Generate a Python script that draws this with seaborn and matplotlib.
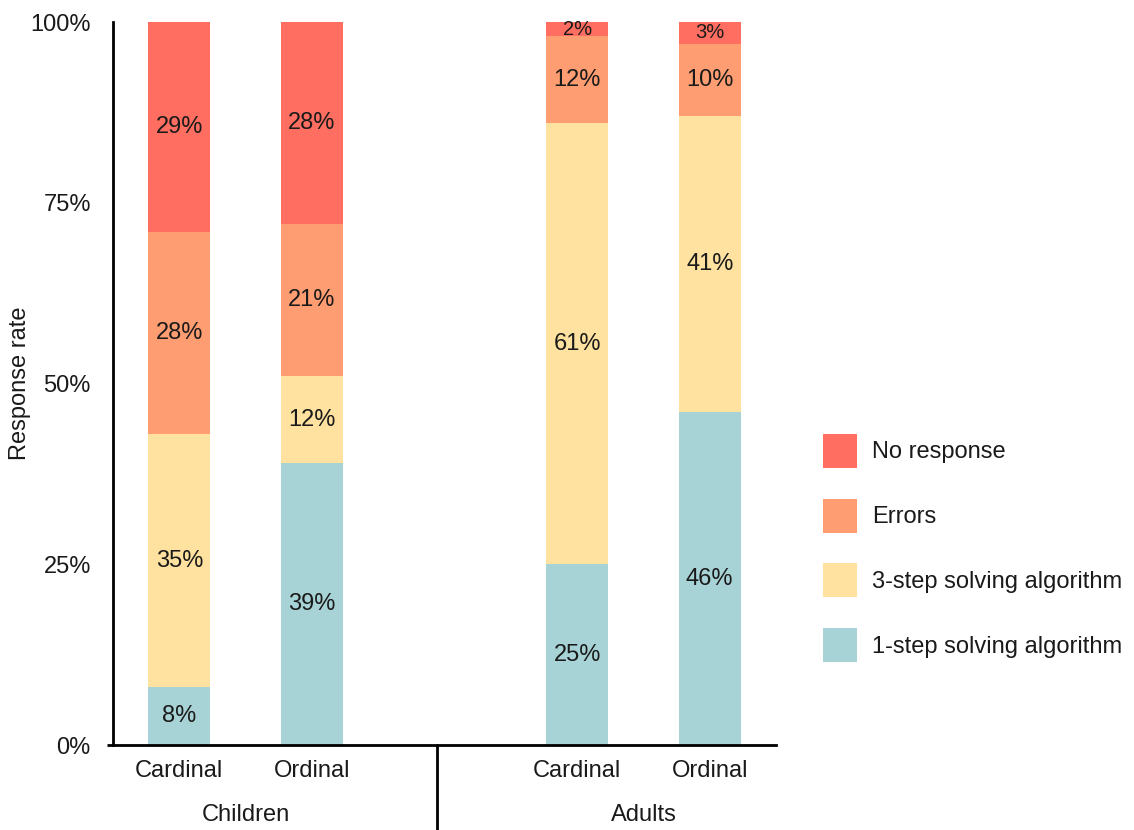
import numpy as np
import pandas as pd
import matplotlib
matplotlib.use("Agg")
import matplotlib.pyplot as plt
import seaborn as sns
from matplotlib.transforms import blended_transform_factory

# ---- data ----
groups = ["Children", "Adults"]
conditions = ["Cardinal", "Ordinal", "Cardinal", "Ordinal"]
positions = [0, 1, 3, 4]
categories = ["1-step solving algorithm", "3-step solving algorithm", "Errors", "No response"]
one_step = [8, 39, 25, 46]
three_step = [35, 12, 61, 41]
errors = [28, 21, 12, 10]
no_response = [29, 28, 2, 3]
yticks = [0, 25, 50, 75, 100]
ytick_labels = ["0%", "25%", "50%", "75%", "100%"]

layers = [one_step, three_step, errors, no_response]
colors = ["#A8D3D6", "#FFE1A0", "#FF9D72", "#FF6E60"]

sns.set_style("white")
plt.rcParams["font.family"] = ["Liberation Sans", "DejaVu Sans"]
TXT = "#1a1a1a"
FS = 17

fig = plt.figure(figsize=(11.34, 8.3), dpi=100)
W, H = 1134, 830
ax = fig.add_axes([113 / W, 1 - 745 / H, (776 - 113) / W, (745 - 22) / H])

cum = np.cumsum(np.array(layers), axis=0)
# draw from top layer down so lower layers overlay upper cumulative bars
for i in reversed(range(len(layers))):
    df = pd.DataFrame({"pos": positions, "top": cum[i]})
    sns.barplot(data=df, x="pos", y="top", native_scale=True, width=0.47,
                color=colors[i], saturation=1, linewidth=0, ax=ax,
                label=categories[i], errorbar=None)

if ax.get_legend() is not None:
    ax.get_legend().remove()

# value labels
for i, vals in enumerate(layers):
    bottoms = cum[i] - np.array(vals)
    for p, v, b in zip(positions, vals, bottoms):
        ax.text(p, b + v / 2, f"{v}%", ha="center", va="center",
                fontsize=FS if v >= 5 else 14.5, color=TXT)

ax.set_xlim(-0.5, 4.5)
ax.set_ylim(0, 100)
ax.set_xticks(positions)
ax.set_xticklabels(conditions)
ax.set_yticks(yticks)
ax.set_yticklabels(ytick_labels)
ax.tick_params(axis="x", length=0, pad=11, labelsize=FS, colors=TXT)
ax.tick_params(axis="y", length=0, pad=16, labelsize=FS, colors=TXT)
ax.set_xlabel("")
ax.set_ylabel("Response rate", fontsize=FS, color=TXT)
ax.yaxis.set_label_coords((31 - 113) / 663, 0.5)

for s in ["top", "right"]:
    ax.spines[s].set_visible(False)
for s in ["left", "bottom"]:
    ax.spines[s].set_linewidth(2)
    ax.spines[s].set_color("black")

# small left extension of x axis line
ax.plot([-0.009, 0], [0, 0], transform=ax.transAxes, clip_on=False,
        color="black", lw=2, solid_capstyle="butt")

# group separator and group labels
trans = blended_transform_factory(ax.transData, ax.transAxes)
ax.plot([1.94, 1.94], [0, -0.12], transform=trans, clip_on=False,
        color="black", lw=2)
ax.text(0.5, (745 - 815) / 723, groups[0], transform=trans, ha="center",
        va="center", fontsize=FS, color=TXT)
ax.text(3.5, (745 - 815) / 723, groups[1], transform=trans, ha="center",
        va="center", fontsize=FS, color=TXT)

# legend (top layer first)
handles, labels = ax.get_legend_handles_labels()
order = [labels.index(c) for c in reversed(categories)]
fig.legend([handles[k] for k in order], [labels[k] for k in order],
           loc="center left", bbox_to_anchor=(823 / W, 1 - 548 / H),
           frameon=False, fontsize=FS, handlelength=1.44, handleheight=1.84,
           labelspacing=1.31, handletextpad=0.62, borderpad=0, borderaxespad=0,
           labelcolor=TXT)

fig.savefig("out.png", dpi=100)
